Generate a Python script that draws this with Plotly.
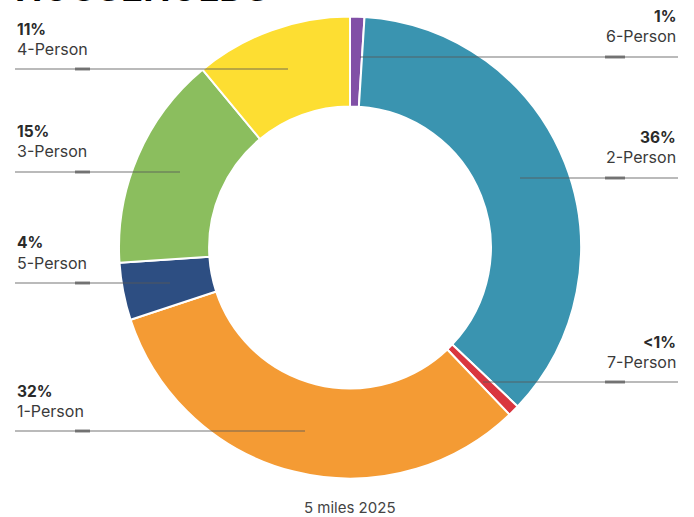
import plotly.graph_objects as go

# ---- data ----
labels = ["6-Person", "2-Person", "7-Person", "1-Person", "5-Person", "3-Person", "4-Person"]
values = [1, 36, 0.8, 32, 4, 15, 11]
pct_text = ["1%", "36%", "<1%", "32%", "4%", "15%", "11%"]
colors = ["#8150A6", "#3A94B0", "#D9363F", "#F49B34", "#2D4E82", "#8BBE5E", "#FDDE32"]
title_text = "HOUSEHOLDS"
footer_text = "5 miles 2025"

# ---- label layout (page pixels): side, leader-line y, inner end x ----
label_layout = {
    "6-Person": ("right", 57, 360),
    "2-Person": ("right", 178, 520),
    "7-Person": ("right", 382, 483),
    "1-Person": ("left", 431, 305),
    "5-Person": ("left", 283, 170),
    "3-Person": ("left", 172, 180),
    "4-Person": ("left", 69, 288),
}

W, H = 694, 517
def px(x):
    return x / W
def py(y):
    return 1 - y / H

cx, cy, r = 350, 247.5, 231

fig = go.Figure(go.Pie(
    labels=labels,
    values=values,
    sort=False,
    direction="clockwise",
    rotation=0,
    hole=0.61,
    marker=dict(colors=colors, line=dict(color="white", width=2)),
    textinfo="none",
    hoverinfo="label+percent",
    showlegend=False,
    domain=dict(x=[px(cx - r), px(cx + r)], y=[py(cy + r), py(cy - r)]),
))

shapes = []
annotations = []
LEFT_X, RIGHT_X = 15, 678
for lab, pct in zip(labels, pct_text):
    side, ly, ex = label_layout[lab]
    if side == "left":
        x0, x1 = LEFT_X, ex
        d0, d1 = 75, 90
        tx, anchor = LEFT_X, "left"
    else:
        x0, x1 = ex, RIGHT_X
        d0, d1 = 605, 625
        tx, anchor = RIGHT_X, "right"
    shapes.append(dict(type="line", xref="paper", yref="paper",
                       x0=px(x0), x1=px(x1), y0=py(ly), y1=py(ly),
                       line=dict(color="rgba(90,90,90,0.55)", width=1.5)))
    shapes.append(dict(type="line", xref="paper", yref="paper",
                       x0=px(d0), x1=px(d1), y0=py(ly), y1=py(ly),
                       line=dict(color="rgba(90,90,90,0.75)", width=3)))
    annotations.append(dict(x=px(tx), y=py(ly - 40), xref="paper", yref="paper",
                            text="<b>" + pct.replace("<", "&lt;") + "</b>",
                            showarrow=False, xanchor=anchor, yanchor="middle",
                            font=dict(family="Inter", size=15.5, color="#2a2a2a")))
    annotations.append(dict(x=px(tx), y=py(ly - 20.5), xref="paper", yref="paper",
                            text=lab, showarrow=False, xanchor=anchor, yanchor="middle",
                            font=dict(family="Inter", size=16, color="#3a3a3a")))

annotations.append(dict(x=px(cx), y=py(508), xref="paper", yref="paper",
                        text=footer_text, showarrow=False, xanchor="center", yanchor="middle",
                        font=dict(family="Inter", size=15, color="#444444")))
annotations.append(dict(x=px(13), y=py(-12), xref="paper", yref="paper",
                        text="<b>" + title_text + "</b>", showarrow=False,
                        xanchor="left", yanchor="middle",
                        font=dict(family="Inter", size=36.5, color="#000000")))

fig.update_layout(
    width=W, height=H,
    margin=dict(l=0, r=0, t=0, b=0),
    paper_bgcolor="white", plot_bgcolor="white",
    shapes=shapes, annotations=annotations,
)
fig.write_html("out.html",
               config={"displayModeBar": False},
               post_script="document.body.style.margin='0px';document.body.style.overflow='hidden';")
